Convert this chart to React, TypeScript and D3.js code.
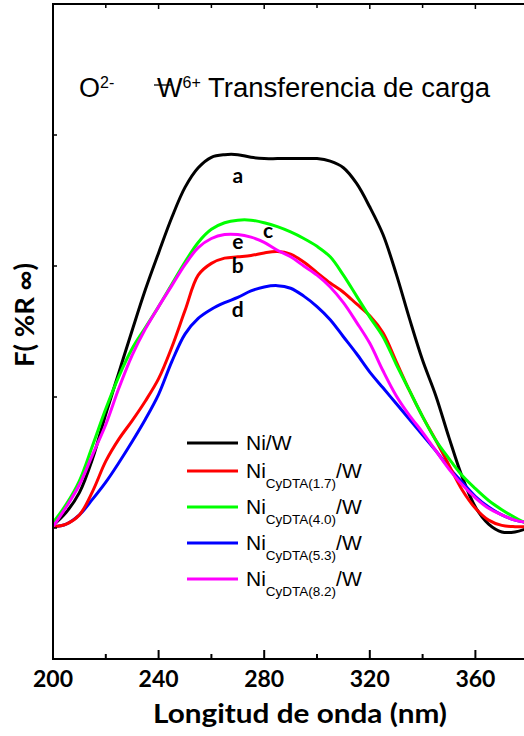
import React from "react";
import * as d3 from "d3";

const wavelengths = [200,205,210,215,220,225,230,235,240,245,250,255,260,265,270,275,280,285,290,295,300,305,310,315,320,325,330,335,340,345,350,355,360,365,370,375,380];

const seriesA = [1.02,1.12,1.27,1.53,1.87,2.19,2.51,2.82,3.10,3.37,3.60,3.75,3.83,3.85,3.85,3.83,3.82,3.82,3.82,3.82,3.82,3.80,3.75,3.63,3.45,3.24,2.94,2.60,2.28,2.01,1.69,1.39,1.16,1.03,0.97,0.97,1.00];
const seriesB = [1.01,1.03,1.10,1.28,1.51,1.68,1.82,1.97,2.14,2.38,2.66,2.93,3.02,3.06,3.07,3.08,3.10,3.11,3.09,3.03,2.95,2.87,2.80,2.71,2.62,2.49,2.27,2.05,1.85,1.67,1.48,1.29,1.15,1.06,1.02,1.01,1.01];
const seriesC = [1.04,1.18,1.36,1.63,1.91,2.16,2.37,2.53,2.69,2.86,3.03,3.18,3.28,3.33,3.35,3.35,3.33,3.30,3.26,3.21,3.15,3.07,2.93,2.77,2.61,2.46,2.25,2.05,1.85,1.67,1.53,1.40,1.30,1.21,1.14,1.08,1.03];
const seriesD = [1.01,1.03,1.10,1.22,1.35,1.50,1.66,1.83,2.02,2.27,2.48,2.60,2.67,2.72,2.76,2.81,2.84,2.85,2.83,2.77,2.69,2.59,2.46,2.33,2.19,2.07,1.95,1.83,1.71,1.59,1.46,1.35,1.24,1.16,1.10,1.06,1.04];
const seriesE = [1.01,1.16,1.33,1.56,1.79,2.07,2.32,2.52,2.69,2.85,3.01,3.14,3.21,3.24,3.24,3.22,3.18,3.12,3.07,3.00,2.93,2.84,2.72,2.57,2.41,2.20,2.01,1.86,1.73,1.59,1.45,1.33,1.23,1.15,1.10,1.06,1.04];

const legendNames = ["Ni/W", "1.7", "4.0", "5.3", "8.2"];
const seriesColors = ["#000000", "#ff0000", "#00ff00", "#0000ff", "#ff00ff"];
const curveLetters = ["a", "b", "c", "d", "e"];
const letterPos = [[270, 3.63], [270, 2.95], [281.5, 3.21], [270, 2.61], [270, 3.13]];
const xTicks = [200, 240, 280, 320, 360];
const xMinorTicks = [220, 260, 300, 340, 380];
const yTicks = [1, 2, 3, 4];

export default function App() {
  const W = 524, H = 736;
  const x = d3.scaleLinear().domain([200, 380]).range([53, 528.2]);
  const y = d3.scaleLinear().domain([0, 5]).range([659, 4]);
  const allSeries = [seriesA, seriesB, seriesC, seriesD, seriesE];
  const line = d3.line<number>()
    .x((_, i) => x(wavelengths[i]))
    .y((v) => y(v))
    .curve(d3.curveCatmullRom.alpha(0.5));
  const drawOrder = [0, 3, 1, 2, 4];
  const legendY = [443, 471, 507, 543, 579];
  return (
    <svg width={W} height={H} style={{ position: "absolute", left: 0, top: 0, background: "#fff" }}
      fontFamily="'Liberation Sans', Arial, sans-serif">
      <defs>
        <clipPath id="plotclip">
          <rect x={53} y={4} width={480} height={655} />
        </clipPath>
      </defs>
      <g clipPath="url(#plotclip)">
        {drawOrder.map((k) => (
          <path key={k} d={line(allSeries[k]) || ""} fill="none" stroke={seriesColors[k]} strokeWidth={3} />
        ))}
      </g>
      {/* frame */}
      <rect x={53} y={4} width={x(380) - 53} height={655} fill="none" stroke="#000" strokeWidth={2} />
      {xTicks.map((t) => (
        <g key={"xt" + t}>
          <line x1={x(t)} x2={x(t)} y1={659} y2={650} stroke="#000" strokeWidth={2} />
          <line x1={x(t)} x2={x(t)} y1={4} y2={9} stroke="#000" strokeWidth={1.5} />
          <text x={x(t)} y={687} textAnchor="middle" fontFamily="Lato, 'Open Sans', sans-serif" fontWeight="bold" fontSize={23}>{t}</text>
        </g>
      ))}
      {xMinorTicks.map((t) => (
        <g key={"xm" + t}>
          <line x1={x(t)} x2={x(t)} y1={659} y2={654} stroke="#000" strokeWidth={2} />
          <line x1={x(t)} x2={x(t)} y1={4} y2={8} stroke="#000" strokeWidth={1.5} />
        </g>
      ))}
      {yTicks.map((t) => (
        <line key={"yt" + t} x1={53} x2={57} y1={y(t)} y2={y(t)} stroke="#000" strokeWidth={1.5} />
      ))}
      <text x={300} y={723} textAnchor="middle" fontFamily="Lato, 'Open Sans', sans-serif" fontWeight="bold" fontSize={27}
        textLength={294} lengthAdjust="spacingAndGlyphs">Longitud de onda (nm)</text>
      <text transform="translate(34,315) rotate(-90)" textAnchor="middle" fontFamily="Lato, 'Open Sans', sans-serif" fontWeight="bold" fontSize={26}
        textLength={104} lengthAdjust="spacingAndGlyphs">F( %R ∞)</text>
      {/* title */}
      <text x={79} y={97} fontSize={27}>O<tspan fontSize={16} dy={-9}>2-</tspan></text>
      <line x1={154} x2={171} y1={85} y2={85} stroke="#000" strokeWidth={1.3} />
      <text x={157} y={97} fontSize={27}>W<tspan fontSize={16} dy={-9}>6+</tspan></text>
      <text x={208} y={97} fontSize={27} textLength={282} lengthAdjust="spacingAndGlyphs">Transferencia de carga</text>
      {/* curve letters */}
      {curveLetters.map((c, i) => (
        <text key={c} x={x(letterPos[i][0])} y={y(letterPos[i][1])} textAnchor="middle" fontFamily="Lato, 'Open Sans', sans-serif" fontWeight="bold" fontSize={21}>{c}</text>
      ))}
      {/* legend */}
      {legendNames.map((n, i) => (
        <g key={"lg" + i}>
          <line x1={187} x2={238} y1={legendY[i]} y2={legendY[i]} stroke={seriesColors[i]} strokeWidth={3} />
          {i === 0 ? (
            <text x={246} y={legendY[i] + 7} fontSize={21}>Ni/W</text>
          ) : (
            <text x={246} y={legendY[i] + 7} fontSize={21}>Ni<tspan fontSize={13.5} dy={10}>{"CyDTA(" + n + ")"}</tspan><tspan fontSize={21} dy={-10}>/W</tspan></text>
          )}
        </g>
      ))}
    </svg>
  );
}
